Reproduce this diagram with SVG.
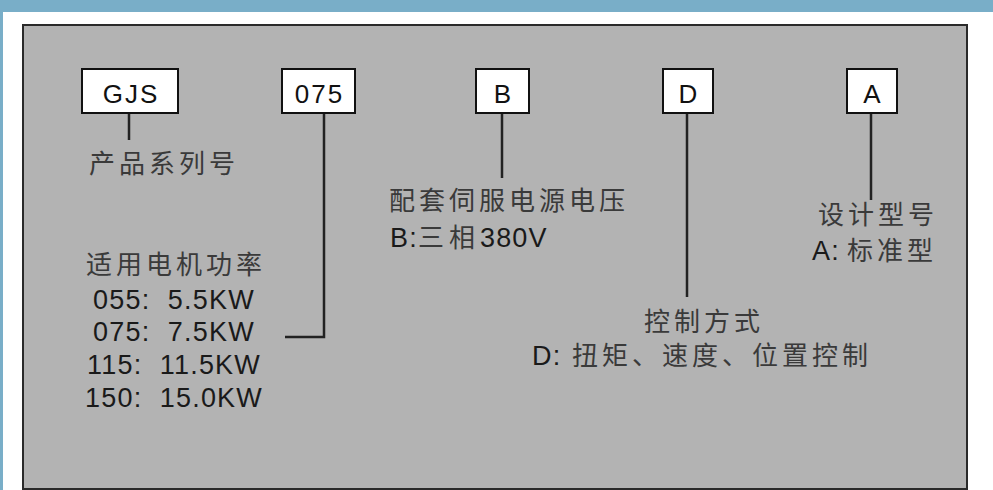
<svg xmlns="http://www.w3.org/2000/svg" width="993" height="490" viewBox="0 0 993 490">
<style>
.box{fill:#fff;stroke:#111;stroke-width:2}
.bt{font-family:"Liberation Sans",Arial,sans-serif;font-size:26px;fill:#111;text-anchor:middle;letter-spacing:2px}
.lat{font-family:"Liberation Sans",Arial,sans-serif;font-size:27px;fill:#1a1a1a;white-space:pre;letter-spacing:1.2px}
.cjk{font-family:"Noto Sans CJK SC","Noto Sans",sans-serif;font-size:26px;fill:#3a3a3a;letter-spacing:4px}
.c{text-anchor:middle}
.ln{stroke:#222;stroke-width:2.5;fill:none}
</style>
<rect x="0" y="0" width="993" height="490" fill="#fff"/>
<rect x="0" y="0" width="993" height="12" fill="#79aec8"/>
<rect x="0" y="0" width="3" height="490" fill="#79aec8"/>
<rect x="23" y="25" width="944" height="464" fill="#b3b3b3" stroke="#2a2a2a" stroke-width="2"/>

<g id="connectors">
<line class="ln" x1="129" y1="113" x2="129" y2="140"/>
<polyline class="ln" points="324,113 324,337 285,337"/>
<line class="ln" x1="502" y1="113" x2="502" y2="178"/>
<line class="ln" x1="687" y1="113" x2="687" y2="297"/>
<line class="ln" x1="871" y1="113" x2="871" y2="200" stroke="#444" stroke-width="3"/>
</g>

<g id="node-gjs">
<rect class="box" x="82" y="69" width="96" height="44"/>
<text class="bt" x="131" y="103">GJS</text>
<text class="cjk" x="89" y="173">产品系列号</text>
</g>

<g id="node-075">
<rect class="box" x="282" y="69" width="73" height="44"/>
<text class="bt" x="319.5" y="103">075</text>
<text class="cjk c" x="176" y="274">适用电机功率</text>
<text class="lat c" x="174" y="309">055:  5.5KW</text>
<text class="lat c" x="174" y="341">075:  7.5KW</text>
<text class="lat c" x="174" y="374">115:  11.5KW</text>
<text class="lat c" x="174" y="407">150:  15.0KW</text>
</g>

<g id="node-b">
<rect class="box" x="476" y="69" width="53" height="44"/>
<text class="bt" x="503.5" y="103">B</text>
<text class="cjk" x="389" y="210">配套伺服电源电压</text>
<text x="390" y="247"><tspan class="lat">B:</tspan><tspan class="cjk" style="letter-spacing:5px">三相</tspan><tspan class="lat">380V</tspan></text>
</g>

<g id="node-d">
<rect class="box" x="663" y="69" width="50" height="44"/>
<text class="bt" x="689" y="103">D</text>
<text class="cjk c" x="704" y="331">控制方式</text>
<text x="532" y="365"><tspan class="lat">D:</tspan><tspan class="cjk" x="572">扭矩、速度、位置控制</tspan></text>
</g>

<g id="node-a">
<rect class="box" x="847" y="69" width="50" height="44"/>
<text class="bt" x="873" y="103">A</text>
<text class="cjk c" x="878" y="224">设计型号</text>
<text x="812" y="260"><tspan class="lat">A:</tspan><tspan class="cjk" x="847">标准型</tspan></text>
</g>
</svg>
